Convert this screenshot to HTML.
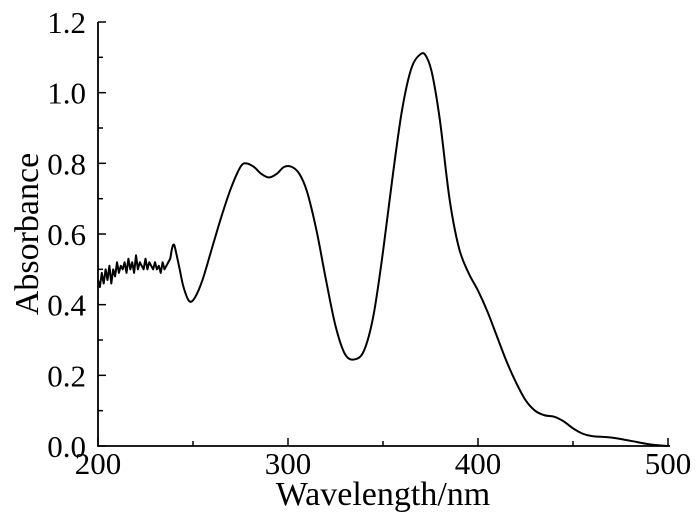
<!DOCTYPE html>
<html><head><meta charset="utf-8"><style>
html,body{margin:0;padding:0;background:#fff;}
svg{display:block;font-family:"Liberation Serif",serif;}
</style></head><body>
<svg id="chart" width="700" height="527" xmlns="http://www.w3.org/2000/svg"></svg>
<script>
const wavelengths=[200,201,202,203,204,205,206,207,208,209,210,211,212,213,214,215,216,217,218,219,220,221,222,223,224,225,226,227,228,229,230,231,232,233,234,235,236,237,238,239,240,241,243,245,248,251,255,260,265,270,275,278,282,286,290,294,298,302,306,310,315,320,325,330,335,340,345,350,355,360,365,370,373,376,380,385,390,395,400,405,410,415,420,425,430,435,440,445,450,455,460,470,480,490,500];
const absorbance=[0.47,0.45,0.49,0.46,0.50,0.47,0.51,0.46,0.50,0.48,0.52,0.49,0.51,0.50,0.52,0.49,0.53,0.50,0.52,0.49,0.54,0.50,0.52,0.51,0.50,0.53,0.50,0.52,0.51,0.50,0.52,0.50,0.51,0.49,0.52,0.50,0.51,0.52,0.53,0.56,0.57,0.55,0.50,0.45,0.41,0.42,0.47,0.56,0.65,0.73,0.79,0.80,0.79,0.77,0.76,0.77,0.79,0.79,0.77,0.72,0.61,0.47,0.34,0.26,0.245,0.27,0.37,0.55,0.76,0.95,1.07,1.11,1.10,1.05,0.92,0.70,0.56,0.49,0.44,0.38,0.31,0.24,0.18,0.13,0.10,0.087,0.083,0.07,0.05,0.035,0.028,0.024,0.015,0.005,0.0];
const xTicks=[200,300,400,500];
const yTicks=[0.0,0.2,0.4,0.6,0.8,1.0,1.2];
const NS="http://www.w3.org/2000/svg";
const svg=document.getElementById('chart');
const X0=98,X1=668,Y0=446,Y1=22;
const xs=v=>X0+(v-200)/300*(X1-X0);
const ys=v=>Y0-v/1.2*(Y0-Y1);
function mk(t,a){const e=document.createElementNS(NS,t);for(const k in a)e.setAttribute(k,a[k]);svg.appendChild(e);return e;}
let ax=mk('path',{d:`M${X0},${Y1} V${Y0} H${X1+2}`,stroke:'#000','stroke-width':1.8,fill:'none'});


for(let i=0;i<yTicks.length;i++){
 const y=ys(yTicks[i]);
 let t=mk('line',{x1:X0,x2:X0+8,y1:y,y2:y,stroke:'#000','stroke-width':1.5});
 
 
 if(i<yTicks.length-1){const ym=ys(yTicks[i]+0.1);let m=mk('line',{x1:X0,x2:X0+5,y1:ym,y2:ym,stroke:'#000','stroke-width':1.5});
 
 }
 let l=mk('text',{x:X0-12,y:y+11,'text-anchor':'end','font-size':31});l.textContent=yTicks[i].toFixed(1);
 
 
}
for(let i=0;i<xTicks.length;i++){
 const x=xs(xTicks[i]);
 let t=mk('line',{x1:x,x2:x,y1:Y0,y2:Y0-8,stroke:'#000','stroke-width':1.5});
 
 
 if(i<xTicks.length-1){const xm=xs(xTicks[i]+50);let m=mk('line',{x1:xm,x2:xm,y1:Y0,y2:Y0-5,stroke:'#000','stroke-width':1.5});
 
 }
 let l=mk('text',{x:x,y:Y0+28,'text-anchor':'middle','font-size':31});l.textContent=xTicks[i];
 
 
}
let xt=mk('text',{x:383,y:505,'text-anchor':'middle','font-size':34});xt.textContent='Wavelength/nm';


let yt=mk('text',{x:0,y:0,'text-anchor':'middle','font-size':34,transform:'translate(38,234) rotate(-90)'});yt.textContent='Absorbance';


const P=wavelengths.map((w,i)=>[xs(w),ys(absorbance[i])]);
let d=`M${P[0][0]},${P[0][1]}`;
for(let i=0;i<P.length-1;i++){
 const p0=P[Math.max(0,i-1)],p1=P[i],p2=P[i+1],p3=P[Math.min(P.length-1,i+2)];
 if(wavelengths[i]<238){d+=` L${p2[0]},${p2[1]}`;continue;}
 const c1=[p1[0]+(p2[0]-p0[0])/6,p1[1]+(p2[1]-p0[1])/6],c2=[p2[0]-(p3[0]-p1[0])/6,p2[1]-(p3[1]-p1[1])/6];
 d+=` C${c1[0]},${c1[1]} ${c2[0]},${c2[1]} ${p2[0]},${p2[1]}`;
}
let ln=mk('path',{d:d,stroke:'#000','stroke-width':2,fill:'none','stroke-linejoin':'round'});


</script>
</body></html>
